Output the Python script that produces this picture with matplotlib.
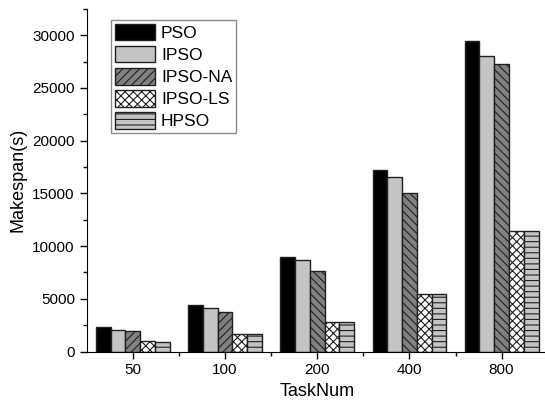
import numpy as np
import matplotlib
matplotlib.use("Agg")
from matplotlib import pyplot as plt, ticker

plt.rcParams["font.family"] = ["Liberation Sans", "DejaVu Sans"]
plt.rcParams["hatch.linewidth"] = 0.8

task_nums = ["50", "100", "200", "400", "800"]
pso = [2370, 4420, 8990, 17190, 29460]
ipso = [2080, 4130, 8680, 16530, 28080]
ipso_na = [1990, 3790, 7670, 15080, 27320]
ipso_ls = [1010, 1670, 2780, 5490, 11480]
hpso = [880, 1670, 2780, 5420, 11480]

series = [
    ("PSO", pso, "black", ""),
    ("IPSO", ipso, "#c4c4c4", ""),
    ("IPSO-NA", ipso_na, "#808080", "////"),
    ("IPSO-LS", ipso_ls, "white", "xxxx"),
    ("HPSO", hpso, "#c4c4c4", "---"),
]

fig = plt.figure(figsize=(5.45, 4.05), dpi=100)
ax = fig.add_axes([0.159, 0.132, 0.846, 0.846])

x = np.arange(1, len(task_nums) + 1)
width = 0.16
for i, (name, vals, color, hatch) in enumerate(series):
    bars = ax.bar(x + (i - 2) * width, vals, width, color=color, edgecolor="#202020",
                  linewidth=1.0, hatch=hatch, label=name)
    if name == "IPSO-NA":
        # later groups render the diagonal the other way
        for b in bars[2:]:
            b.set_hatch("\\\\\\\\")

ax.set_xlim(0.5, 5.5)
ax.set_ylim(0, 32500)
ax.set_xticks(x)
ax.set_xticklabels(task_nums)
ax.xaxis.set_minor_locator(ticker.FixedLocator(x[:-1] + 0.5))
ax.yaxis.set_major_locator(ticker.MultipleLocator(5000))
ax.yaxis.set_minor_locator(ticker.MultipleLocator(2500))
ax.tick_params(which="major", direction="out", length=5, width=1, labelsize=11)
ax.tick_params(which="minor", direction="out", length=3, width=1)
ax.spines["top"].set_visible(False)
ax.spines["right"].set_visible(False)
ax.set_xlabel("TaskNum", fontsize=13, labelpad=4)
ax.set_ylabel("Makespan(s)", fontsize=13, labelpad=4)

leg = ax.legend(loc="upper left", bbox_to_anchor=(0.053, 0.968), fontsize=12.5,
                handlelength=2.3, handleheight=1.1, labelspacing=0.28,
                handletextpad=0.35, borderpad=0.22, borderaxespad=0,
                fancybox=False, edgecolor="#707070")
leg.get_frame().set_linewidth(1.0)

fig.savefig("out.png", dpi=100)
